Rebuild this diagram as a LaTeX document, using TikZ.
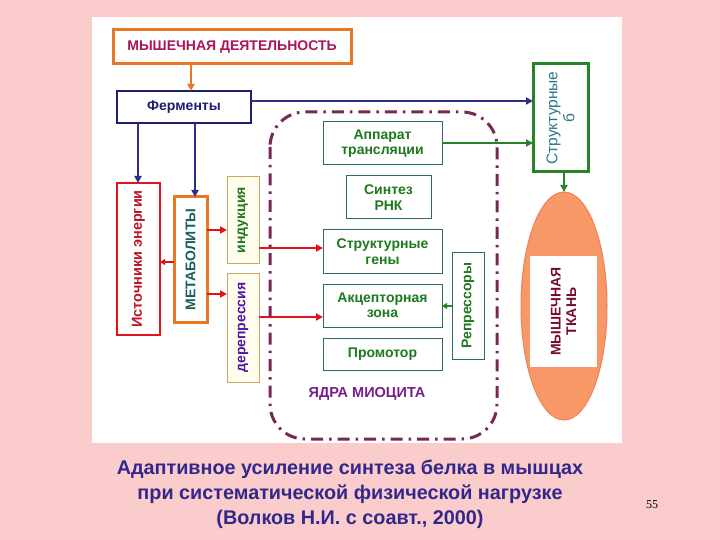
\documentclass[tikz,border=0pt]{standalone}
\usepackage{fontspec}
\setmainfont{Liberation Sans}
\newfontfamily\serifnum{Liberation Serif}
\usetikzlibrary{arrows.meta,shapes.geometric}
\definecolor{bgpink}{RGB}{250,205,204}
\definecolor{orng}{RGB}{230,120,40}
\definecolor{magtext}{RGB}{170,20,90}
\definecolor{navy}{RGB}{30,30,110}
\definecolor{blueln}{RGB}{45,45,140}
\definecolor{redln}{RGB}{225,20,30}
\definecolor{tealbd}{RGB}{40,105,105}
\definecolor{grtext}{RGB}{30,120,30}
\definecolor{grthick}{RGB}{40,130,40}
\definecolor{plum}{RGB}{120,40,85}
\definecolor{purtext}{RGB}{120,30,140}
\definecolor{tanbd}{RGB}{205,165,95}
\definecolor{cream}{RGB}{255,253,238}
\definecolor{indtext}{RGB}{80,20,170}
\definecolor{metatext}{RGB}{20,95,95}
\definecolor{isttext}{RGB}{190,20,40}
\definecolor{salmon}{RGB}{248,152,102}
\definecolor{salmonbd}{RGB}{240,128,90}
\definecolor{maroon}{RGB}{120,10,50}
\definecolor{captext}{RGB}{50,40,140}
\definecolor{strtext}{RGB}{40,120,135}
\tikzset{
  x=1pt, y=-1pt,
  every node/.style={inner sep=0pt, outer sep=0pt, font=\fontsize{14}{15.5}\selectfont\bfseries, align=center},
  midbox/.style={draw=tealbd, line width=1pt, fill=white, text=grtext},
  thinbox/.style={draw=tanbd, line width=1pt, fill=cream},
  tip/.style={-{Triangle[length=7pt,width=7pt]}},
  blueconn/.style={draw=blueln, line width=2pt, tip},
  redconn/.style={draw=redln, line width=2pt, tip},
  greenconn/.style={draw=grthick, line width=2pt, tip},
}
\begin{document}
\begin{tikzpicture}
\useasboundingbox (0,0) rectangle (720,540);
\fill[bgpink] (0,0) rectangle (720,540);
\fill[white] (92,17) rectangle (622,443);

% top box
\node[draw=orng, line width=3pt, fill=white, text=magtext, minimum width=238pt, minimum height=34pt] (myshd) at (232,47) {МЫШЕЧНАЯ ДЕЯТЕЛЬНОСТЬ};
\node[draw=navy, line width=2.5pt, fill=white, text=navy, minimum width=134pt, minimum height=32pt] (ferm) at (184,107) {Ферменты};
\draw[draw=orng, line width=2.5pt, tip] (myshd.south -| 191,0) -- (ferm.north -| 191,0);

% left column
\node[draw=redln, line width=2.5pt, fill=white, minimum width=43pt, minimum height=152pt] (ist) at (138.5,259) {};
\node[rotate=90, text=isttext, font=\fontsize{14.5}{16}\selectfont\bfseries] at (ist) {Источники энергии};
\node[draw=orng, line width=3pt, fill=white, minimum width=33pt, minimum height=125pt] (metab) at (190.5,259.5) {};
\node[rotate=90, text=metatext] at (metab) {МЕТАБОЛИТЫ};
\node[thinbox, minimum width=32pt, minimum height=86pt] (induk) at (243,220) {};
\node[rotate=90, text=grtext] at (induk) {индукция};
\node[thinbox, minimum width=32pt, minimum height=109pt] (derep) at (243,327.5) {};
\node[rotate=90, text=indtext] at (derep) {дерепрессия};

\draw[blueconn] (ferm.south -| 138,0) -- (ist.north -| 138,0);
\draw[blueconn] (ferm.south -| 195,0) -- (metab.north -| 195,0);
\draw[draw=redln, line width=1.5pt, -{Triangle[length=5pt,width=6pt]}] (metab.west |- 0,262) -- (ist.east |- 0,262);
\draw[redconn] (metab.east |- 0,230) -- (induk.west |- 0,230);
\draw[redconn] (metab.east |- 0,294) -- (derep.west |- 0,294);

% nucleus
\draw[plum, line width=3pt, rounded corners=35pt, dash pattern=on 12pt off 6pt on 2.5pt off 6pt] (270,112) rectangle (497,439);
\node[midbox, minimum width=119pt, minimum height=43pt] (appar) at (382.5,143.5) {Аппарат\\трансляции};
\node[midbox, minimum width=85pt, minimum height=43pt] (sint) at (388.5,197.5) {Синтез\\РНК};
\node[midbox, minimum width=119pt, minimum height=43pt] (strg) at (382.5,251.5) {Структурные\\гены};
\node[midbox, minimum width=119pt, minimum height=43pt] (akc) at (382.5,305.5) {Акцепторная\\зона};
\node[midbox, minimum width=119pt, minimum height=32pt] (prom) at (382.5,354) {Промотор};
\node[midbox, minimum width=32pt, minimum height=107pt] (repr) at (468,305.5) {};
\node[rotate=90, text=grtext] at (repr) {Репрессоры};
\node[text=purtext, font=\fontsize{14.5}{16}\selectfont\bfseries] (yadra) at (367,394) {ЯДРА МИОЦИТА};

\draw[redconn] (induk.east |- 0,248) -- (strg.west |- 0,248);
\draw[redconn] (derep.east |- 0,317) -- (akc.west |- 0,317);
\draw[draw=grthick, line width=1.5pt, -{Triangle[length=5pt,width=6pt]}] (repr.west |- 0,306) -- (akc.east |- 0,306);

% right column
\node[draw=grthick, line width=3pt, fill=white, minimum width=55pt, minimum height=108pt] (strb) at (560.5,118) {};
\node[rotate=90, text=strtext, font=\fontsize{15.5}{17}\selectfont] at (strb) {Структурные\\б};
\draw[blueconn] (ferm.east |- 0,101) -- (strb.west |- 0,101);
\draw[greenconn] (appar.east |- 0,143) -- (strb.west |- 0,143);
\node[ellipse, draw=salmonbd, line width=1pt, fill=salmon, minimum width=86pt, minimum height=228pt] (tissue) at (564,306) {};
\node[fill=white, minimum width=67pt, minimum height=111pt] (tisbox) at (563.5,311.5) {};
\node[rotate=90, text=maroon] at (tisbox) {МЫШЕЧНАЯ\\ТКАНЬ};
\draw[draw=grthick, line width=2pt, tip] (strb.south -| 564,0) -- (tissue.north -| 564,0);

% caption
\node[text=captext, font=\fontsize{19.8}{25}\selectfont\bfseries] (cap) at (350,494) {Адаптивное усиление синтеза белка в мышцах\\при систематической физической нагрузке\\(Волков Н.И. с соавт., 2000)};
\node[font=\serifnum\fontsize{12}{14}\selectfont] (pnum) at (652,505) {55};
\end{tikzpicture}
\end{document}
